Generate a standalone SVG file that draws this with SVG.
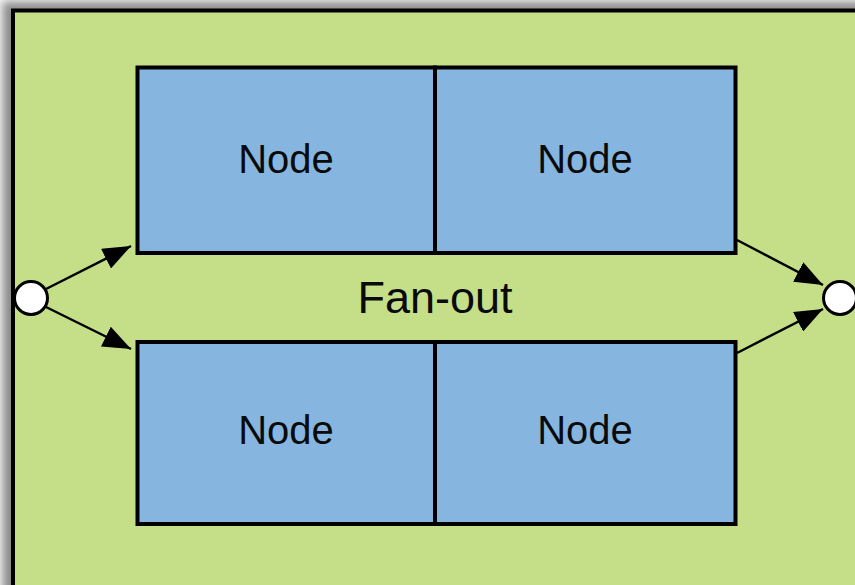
<svg xmlns="http://www.w3.org/2000/svg" width="855" height="585" viewBox="0 0 855 585">
  <defs>
    <filter id="shadow" x="-10%" y="-10%" width="130%" height="130%">
      <feGaussianBlur stdDeviation="4"/>
    </filter>
    <marker id="arrow" viewBox="0 0 28 22" refX="28" refY="11" markerWidth="28" markerHeight="22" markerUnits="userSpaceOnUse" orient="auto">
      <path d="M0,0 L28,11 L0,22 z" fill="#000"/>
    </marker>
    <style>
      .box { fill: #86b6df; stroke: #000; stroke-width: 4; }
      .lbl { font-family: "Liberation Sans", Arial, sans-serif; font-size: 40px; fill: #0a0a0a; text-anchor: middle; }
      .term { fill: #fff; stroke: #000; stroke-width: 3; }
      .edge { stroke: #000; stroke-width: 2.5; fill: none; marker-end: url(#arrow); }
    </style>
  </defs>
  <rect x="0" y="0" width="855" height="585" fill="#f4f4f4"/>
  <rect x="3" y="2" width="900" height="700" fill="#8a8a8a" filter="url(#shadow)"/>
  <g id="container">
    <rect x="13" y="10.5" width="900" height="700" fill="#c4df88" stroke="#000" stroke-width="4"/>
    <text class="lbl" x="435" y="313" style="font-size:45px">Fan-out</text>
  </g>
  <g id="node1">
    <rect class="box" x="137.5" y="67.5" width="297.5" height="185.5"/>
    <text class="lbl" x="286" y="173">Node</text>
  </g>
  <g id="node2">
    <rect class="box" x="435" y="67.5" width="300.5" height="185.5"/>
    <text class="lbl" x="585" y="173">Node</text>
  </g>
  <g id="node3">
    <rect class="box" x="137.5" y="342" width="297.5" height="182"/>
    <text class="lbl" x="286" y="444">Node</text>
  </g>
  <g id="node4">
    <rect class="box" x="435" y="342" width="300.5" height="182"/>
    <text class="lbl" x="585" y="444">Node</text>
  </g>
  <g id="connectors">
    <line class="edge" x1="46" y1="289" x2="131" y2="246"/>
    <line class="edge" x1="46" y1="307" x2="131" y2="349"/>
    <line class="edge" x1="737" y1="240" x2="823" y2="285"/>
    <line class="edge" x1="737" y1="353" x2="823" y2="309"/>
  </g>
  <g id="start">
    <circle class="term" cx="31" cy="298" r="16.5"/>
  </g>
  <g id="end">
    <circle class="term" cx="840" cy="298" r="16.5"/>
  </g>
</svg>
